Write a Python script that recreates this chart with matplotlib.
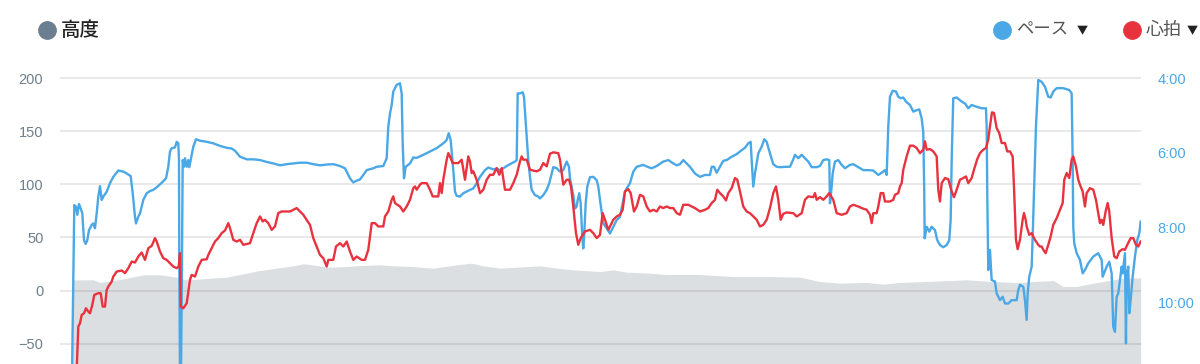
import matplotlib.pyplot as plt
from matplotlib.lines import Line2D
from matplotlib.ticker import FixedLocator, FuncFormatter

# distance along the run (arbitrary units) and the three series
dist_pace = [0, 2.3, 4.0, 5.3, 7.0, 8.7, 10.3, 12.0, 13.7, 15.3, 17.0, 19.7, 21.3, 23.0, 24.7, 26.3,
             28.0, 29.7, 31.3, 34.7, 38.0, 41.3, 46.3, 51.3, 54.7, 58.7, 60.7, 63.0, 64.0, 66.3, 68.0,
             71.3, 74.7, 78.0, 81.3, 84.7, 89.7, 94.0, 96.3, 98.0, 99.7, 103.0, 104.7, 106.3, 107.0,
             107.3, 108.0, 109.0, 110.0, 110.7, 112.0, 113.0, 114.7, 116.3, 117.3, 119.7, 121.3, 124.0,
             128.0, 134.7, 141.3, 148.0, 154.7, 159.7, 163.0, 168.0, 174.7, 181.3, 188.0, 194.7, 201.3,
             208.0, 214.7, 221.3, 228.0, 234.7, 241.3, 248.0, 254.7, 261.3, 268.0, 273.0, 278.0, 281.3,
             284.7, 288.0, 291.3, 294.7, 301.3, 304.7, 311.3, 314.7, 316.3, 318.0, 319.7, 321.3, 324.7,
             328.0, 329.7, 330.7, 332.0, 333.7, 338.0, 341.3, 344.7, 351.3, 358.0, 364.7, 371.3, 374.7,
             376.7, 378.7, 381.3, 383.0, 384.7, 388.0, 391.3, 398.0, 401.3, 404.7, 408.0, 413.0, 416.3,
             421.3, 424.7, 428.0, 431.3, 434.7, 438.0, 443.0, 444.7, 445.7, 448.0, 450.7, 452.0, 454.0,
             456.3, 458.0, 459.7, 463.0, 466.3, 468.0, 471.3, 474.7, 477.3, 479.7, 481.3, 484.7, 488.0,
             491.3, 494.7, 497.0, 498.0, 501.3, 503.0, 504.7, 505.7, 507.3, 508.7, 510.3, 511.3, 512.3,
             513.7, 515.3, 518.0, 521.3, 524.7, 526.3, 528.0, 531.3, 534.7, 538.0, 541.3, 544.7, 548.0,
             551.3, 553.0, 554.7, 558.0, 561.3, 564.7, 571.3, 576.3, 579.7, 584.7, 591.3, 596.3, 601.3,
             604.7, 608.0, 611.3, 614.7, 618.0, 623.0, 628.0, 633.0, 638.0, 639.7, 642.0, 644.7, 648.0,
             651.3, 654.7, 659.7, 664.7, 668.0, 673.0, 676.3, 678.7, 679.7, 681.3, 683.0, 686.3, 689.7,
             692.3, 694.7, 698.0, 701.3, 704.7, 708.0, 714.7, 718.0, 721.3, 723.0, 726.3, 729.7, 733.0,
             736.3, 739.7, 744.7, 748.0, 751.3, 754.7, 757.3, 758.0, 759.7, 760.7, 763.0, 766.3, 769.7,
             773.0, 778.0, 781.3, 786.3, 791.3, 796.3, 801.3, 806.3, 809.7, 813.0, 814.7, 816.3, 818.0,
             820.7, 824.0, 826.3, 828.7, 831.3, 834.0, 838.0, 841.3, 844.7, 847.3, 849.7, 851.3, 852.3,
             852.7, 854.7, 857.3, 859.7, 863.0, 865.3, 868.0, 871.3, 874.7, 877.3, 878.7, 879.7, 881.3,
             884.7, 889.7, 893.0, 896.3, 899.7, 904.7, 909.7, 914.0, 914.7, 915.3, 916.3, 918.0, 919.7,
             923.0, 924.7, 928.0, 930.7, 933.0, 936.3, 939.7, 944.7, 946.3, 948.0, 951.3, 953.0, 954.7,
             955.7, 957.3, 959.7, 960.7, 962.0, 964.0, 966.3, 969.7, 973.0, 976.3, 978.7, 981.3, 984.7,
             991.3, 997.3, 999.7, 1000.7, 1001.3, 1002.3, 1004.7, 1008.0, 1010.7, 1013.0, 1016.3, 1021.3,
             1026.3, 1029.7, 1030.7, 1034.7, 1037.3, 1039.7, 1041.3, 1043.0, 1044.7, 1046.3, 1048.0,
             1049.7, 1050.7, 1053.0, 1054.0, 1054.7, 1056.3, 1057.3, 1058.7, 1060.7, 1063.0, 1065.3,
             1067.3, 1068.7]
pace = [12.0, 7.40, 7.44, 7.66, 7.37, 7.49, 7.62, 8.34, 8.44, 8.34, 8.07, 7.93, 7.89, 8.02, 7.62, 7.17,
        6.89, 7.26, 7.17, 7.04, 6.81, 6.64, 6.47, 6.50, 6.55, 6.62, 7.08, 7.71, 7.89, 7.71, 7.62,
        7.26, 7.08, 7.02, 6.99, 6.92, 6.80, 6.68, 6.37, 5.96, 5.87, 5.85, 5.70, 5.74, 6.19,
        8.87, 12.0, 12.0, 8.87, 6.19, 6.37, 6.14, 6.37, 6.19, 6.38, 6.05, 5.83, 5.63,
        5.67, 5.70, 5.74, 5.81, 5.86, 5.88, 5.94, 6.10, 6.17, 6.17, 6.19, 6.24, 6.28,
        6.33, 6.30, 6.28, 6.26, 6.26, 6.30, 6.33, 6.31, 6.30, 6.35, 6.41, 6.68, 6.79,
        6.74, 6.71, 6.59, 6.46, 6.41, 6.37, 6.35, 6.14, 5.29, 4.94, 4.71, 4.35, 4.17,
        4.13, 4.40, 5.74, 6.68, 6.37, 6.28, 6.12, 6.13, 6.05, 5.96, 5.87, 5.74, 5.65,
        5.47, 5.65, 6.46, 7.04, 7.15, 7.17, 7.08, 6.99, 6.95, 6.81, 6.64, 6.46, 6.39,
        6.44, 6.42, 6.46, 6.41, 6.35, 6.30, 6.23, 6.19, 4.40, 4.40, 4.37, 4.49, 5.29,
        6.19, 6.64, 6.99, 7.13, 7.17, 7.22, 7.13, 6.99, 6.81, 6.55, 6.38, 6.41, 6.50,
        6.46, 6.23, 6.37, 6.68, 7.13, 7.49, 7.44, 7.26, 7.08, 7.35, 8.25, 8.56, 8.16,
        7.35, 6.90, 6.65, 6.64, 6.73, 6.90, 7.26, 7.89, 8.02, 8.16, 7.98, 7.80, 7.71,
        7.26, 7.04, 6.95, 6.81, 6.50, 6.37, 6.32, 6.38, 6.41, 6.35, 6.23, 6.19, 6.28,
        6.33, 6.30, 6.19, 6.28, 6.37, 6.55, 6.64, 6.59, 6.59, 6.37, 6.37, 6.53, 6.37,
        6.21, 6.19, 6.10, 6.03, 5.96, 5.86, 5.74, 5.70, 6.19, 6.90, 6.55, 6.01, 5.83,
        5.63, 5.70, 6.01, 6.30, 6.37, 6.38, 6.37, 6.37, 6.17, 6.05, 6.14, 6.05, 6.14,
        6.23, 6.38, 6.38, 6.35, 6.19, 6.17, 6.19, 7.35, 6.90, 6.55, 6.23, 6.19, 6.32,
        6.41, 6.32, 6.30, 6.38, 6.46, 6.46, 6.47, 6.59, 6.53, 6.46, 6.59, 5.29, 4.49,
        4.33, 4.35, 4.49, 4.53, 4.51, 4.62, 4.71, 4.89, 4.85, 4.83, 5.07, 5.43, 7.08,
        8.29, 7.98, 8.11, 7.98, 8.07, 8.34, 8.47, 8.53, 8.47, 8.34, 7.80, 6.19, 4.53,
        4.51, 4.62, 4.67, 4.80, 4.71, 4.76, 4.80, 4.80, 5.29, 7.08, 9.14, 8.60, 9.41,
        9.45, 9.77, 9.95, 9.86, 10.04, 10.04, 9.95, 9.95, 9.68, 9.54, 9.59, 9.95, 10.48,
        9.77, 9.32, 9.05, 8.25, 7.08, 5.29, 4.04, 4.09, 4.22, 4.49, 4.51, 4.35, 4.26,
        4.26, 4.31, 4.40, 6.19, 7.98, 8.43, 8.69, 8.87, 9.23, 9.14, 8.96, 8.78,
        8.69, 8.87, 9.32, 9.05, 8.92, 9.23, 10.66, 10.80, 9.86, 9.77, 9.41,
        9.05, 9.23, 8.69, 11.11, 9.32, 9.05, 10.30, 9.95, 9.32, 8.78, 8.34,
        8.16, 7.84]

dist_hr = [4.7, 6.3, 8.0, 9.7, 12.0, 14.0, 16.3, 18.0, 20.3, 22.3, 26.3, 28.7, 30.7, 33.0, 34.7, 36.3,
           39.7, 41.3, 44.7, 49.7, 53.0, 56.3, 59.7, 63.0, 66.3, 69.7, 73.0, 76.3, 79.7, 83.0, 84.7,
           88.0, 91.3, 94.7, 98.0, 101.3, 104.7, 106.7, 108.0, 108.7, 111.3, 114.7, 118.0, 119.7, 123.0,
           126.3, 129.7, 134.7, 136.3, 139.7, 143.0, 146.3, 149.7, 153.0, 156.3, 158.0, 161.3, 164.7,
           168.0, 171.3, 178.0, 181.3, 184.7, 188.0, 190.7, 193.0, 196.3, 199.7, 203.0, 206.3, 209.7,
           218.0, 224.7, 228.0, 231.3, 234.7, 238.0, 241.3, 244.7, 248.0, 251.3, 254.7, 256.3, 261.3,
           264.0, 268.0, 271.3, 274.7, 278.0, 281.3, 284.7, 289.7, 293.0, 296.3, 298.0, 299.7, 303.0,
           306.3, 311.3, 313.0, 316.3, 319.7, 321.3, 323.0, 328.0, 331.3, 334.7, 338.0, 341.3, 343.0,
           344.7, 348.0, 349.7, 354.7, 358.0, 360.7, 366.3, 368.0, 369.7, 371.3, 374.7, 376.3, 378.0,
           380.7, 386.3, 389.7, 393.0, 396.3, 398.0, 399.7, 401.3, 404.7, 408.0, 411.3, 414.7, 418.0,
           421.3, 424.7, 427.3, 429.7, 433.0, 438.0, 441.3, 444.7, 448.0, 449.7, 451.3, 454.7, 458.0,
           464.7, 468.0, 471.3, 474.7, 478.0, 481.3, 486.3, 488.0, 489.7, 491.3, 494.7, 497.0, 499.0,
           501.3, 504.0, 506.3, 508.7, 513.0, 518.0, 521.3, 524.7, 528.0, 530.7, 533.0, 536.3, 539.7,
           541.3, 544.7, 548.0, 550.7, 553.0, 556.3, 558.7, 562.0, 564.7, 568.0, 571.3, 574.7, 578.0,
           581.3, 584.7, 588.0, 591.3, 594.7, 598.0, 601.3, 604.7, 608.0, 611.3, 616.3, 619.7, 623.0,
           628.0, 633.0, 636.3, 639.7, 643.0, 645.3, 648.0, 651.3, 654.0, 656.3, 659.7, 663.0, 665.3,
           668.0, 671.3, 674.7, 678.0, 681.3, 684.7, 688.0, 691.3, 694.7, 698.0, 701.3, 704.0, 706.3,
           708.7, 711.3, 714.7, 721.3, 724.7, 729.7, 733.0, 736.3, 741.3, 743.0, 744.7, 748.0, 751.3,
           754.7, 757.3, 761.3, 764.7, 769.7, 774.7, 778.0, 781.3, 786.3, 789.7, 794.7, 798.0, 799.7,
           801.3, 804.7, 806.3, 808.7, 811.3, 813.0, 818.0, 821.3, 823.0, 826.3, 828.0, 829.7, 831.3,
           834.7, 838.0, 841.3, 844.7, 848.0, 851.3, 853.0, 854.7, 858.0, 861.3, 864.7, 866.3, 868.0,
           869.7, 873.0, 876.3, 879.7, 882.0, 884.7, 888.0, 891.3, 894.0, 896.3, 899.7, 902.0, 905.3,
           908.0, 911.3, 914.0, 916.3, 918.0, 920.0, 922.0, 924.7, 927.3, 929.7, 933.0, 935.3, 938.0,
           940.7, 942.0, 944.0, 945.7, 948.0, 950.7, 952.0, 953.7, 954.7, 957.3, 959.7, 961.3, 963.0,
           966.3, 968.0, 969.7, 971.3, 973.7, 976.3, 978.7, 981.3, 984.7, 988.0, 990.7, 992.3, 994.7,
           997.3, 999.7, 1001.3, 1004.0, 1006.3, 1008.0, 1010.7, 1013.0, 1014.7, 1018.0, 1021.3, 1024.0,
           1026.3, 1028.0, 1029.7, 1031.3, 1034.0, 1035.7, 1037.3, 1039.7, 1042.3, 1044.7, 1047.3,
           1050.7, 1053.0, 1055.3, 1058.7, 1061.3, 1064.0, 1066.3, 1068.7]
hr = [-75, -34.0, -30.8, -23.0, -21.4, -16.7, -19.8, -21.4, -13.5, -4.1, -2.5, -2.5, -15.1, -15.1, 0.6, 3.8,
      8.5, 13.2, 17.9, 18.9, 16.4, 21.1, 27.3, 26.4, 32.1, 35.8, 28.9, 39.9, 42.1, 49.4, 46.2,
      36.8, 30.5, 28.9, 25.8, 22.6, 21.1, 22.6, 35.2, -15.1, -16.7, -12.0, 10.1, 14.8, 13.2,
      22.6, 28.9, 29.5, 33.6, 39.9, 46.2, 49.4, 54.1, 56.6, 63.5, 58.8, 47.8, 46.2,
      47.8, 43.1, 44.6, 54.1, 63.5, 69.8, 65.1, 66.6, 63.5, 57.2, 60.4, 73.0, 74.5,
      74.5, 77.7, 74.5, 71.4, 66.6, 61.9, 49.4, 41.5, 33.6, 30.5, 22.6, 28.9, 28.9,
      41.5, 44.6, 41.5, 46.2, 36.8, 28.9, 32.1, 28.9, 28.9, 38.4, 50.9, 63.5, 63.5,
      60.4, 60.4, 69.8, 74.5, 85.5, 88.7, 82.4, 79.2, 74.5, 79.2, 85.5, 96.5, 98.1,
      95.0, 99.7, 101.2, 101.2, 95.0, 88.7, 88.7, 101.2, 91.8, 104.4, 123.3, 129.5, 126.4,
      120.1, 120.1, 123.3, 104.4, 126.4, 121.7, 110.7, 112.3, 104.4, 91.8, 95.0, 104.4, 109.1,
      109.1, 115.4, 109.1, 115.4, 95.0, 95.0, 101.2, 109.1, 121.7, 126.4, 123.3, 123.3, 113.8,
      112.3, 113.8, 120.1, 117.0, 128.9, 130.2, 129.5, 123.3, 110.7, 99.7, 104.4, 104.4, 98.1,
      79.2, 54.1, 43.1, 49.4, 55.7, 57.2, 54.1, 49.4, 52.5, 73.0, 66.7, 57.2, 63.5,
      66.7, 69.8, 71.4, 76.1, 93.4, 95.6, 91.8, 74.5, 79.2, 90.2, 88.7, 79.2, 74.5,
      76.1, 74.5, 79.2, 77.7, 79.2, 77.7, 77.7, 73.0, 71.4, 80.8, 80.8, 79.2, 77.7,
      74.5, 76.1, 77.7, 82.4, 85.5, 95.0, 91.8, 88.7, 84.9, 91.8, 96.5, 106.0, 104.4,
      93.4, 79.2, 74.5, 72.9, 69.8, 66.7, 60.4, 61.9, 66.7, 77.7, 91.8, 98.1, 85.5,
      66.7, 72.3, 73.6, 72.9, 69.8, 72.9, 85.5, 88.7, 88.0, 91.8, 85.5, 88.0, 85.5,
      88.7, 91.8, 85.5, 72.9, 71.4, 72.9, 79.2, 80.8, 79.2, 77.7, 76.1, 71.4, 63.5,
      72.9, 72.9, 79.2, 91.8, 91.8, 83.9, 83.9, 85.5, 90.2, 91.8, 98.1, 101.2, 113.8,
      126.4, 136.5, 136.5, 134.3, 129.5, 132.7, 140.6, 132.7, 133.3, 131.1, 126.4, 95.0, 83.9,
      101.2, 106.0, 105.0, 93.4, 88.0, 95.0, 104.4, 106.0, 107.5, 101.2, 106.0, 113.8, 123.9,
      129.5, 132.7, 134.3, 142.1, 154.7, 167.9, 167.3, 153.1, 148.4, 139.0, 139.0, 131.1, 131.1,
      126.4, 98.1, 47.8, 39.0, 47.8, 66.7, 73.0, 66.7, 60.4, 52.5, 54.1, 50.9, 47.8,
      43.1, 41.5, 41.5, 38.4, 35.2, 43.1, 50.9, 61.9, 68.2, 76.1, 82.4, 104.4, 110.7,
      106.0, 123.3, 126.4, 117.0, 104.4, 99.7, 93.4, 79.2, 91.8, 96.5, 95.0, 85.5,
      72.9, 63.5, 66.7, 61.9, 76.1, 82.4, 74.5, 49.4, 32.1, 30.5, 36.8,
      39.0, 38.4, 43.1, 49.4, 49.4, 43.1, 41.5, 46.2]

dist_elev = [0.3, 21.3, 28.0, 41.3, 54.7, 71.3, 88.0, 104.7, 114.7, 138.0, 154.7, 174.7, 188.0, 204.7,
             221.3, 231.3, 241.3, 254.7, 274.7, 288.0, 308.0, 321.3, 341.3, 361.3, 384.7, 399.7, 411.3,
             428.0, 444.7, 468.0, 484.7, 501.3, 528.0, 541.3, 554.7, 578.0, 594.7, 628.0, 661.3, 694.7,
             728.0, 748.0, 768.0, 794.7, 811.3, 828.0, 861.3, 894.7, 921.3, 944.7, 961.3, 981.3, 991.3,
             1004.7, 1021.3, 1050.7, 1068.7]
elev = [10.1, 10.1, 7.6, 9.4, 11.6, 14.8, 14.8, 12.6, 10.1, 11.6, 12.6, 16.4, 18.9, 21.1,
        23.3, 25.2, 24.2, 22.0, 22.6, 23.6, 24.2, 23.3, 22.6, 21.1, 24.2, 25.8, 23.3,
        21.1, 22.0, 23.3, 21.1, 19.5, 17.9, 19.5, 17.3, 16.4, 15.1, 15.1, 13.2, 13.2,
        12.6, 8.5, 7.0, 7.6, 6.0, 7.6, 8.8, 10.1, 8.5, 7.6, 8.5, 9.4, 3.8,
        3.8, 6.9, 11.6, 12.0]

left_ticks = [-50, 0, 50, 100, 150, 200]
pace_ticks = [4, 6, 8, 10]

BLUE = "#4aa8e6"
RED = "#e8333f"
SLATE = "#6b7f90"
FAMILY = ["Noto Sans CJK JP", "DejaVu Sans"]
plt.rcParams["font.family"] = FAMILY

fig = plt.figure(figsize=(12, 3.64), dpi=100)
ax = fig.add_axes([0.05, 0.0, 0.9008, 0.8077])
ax_pace = ax.twinx()
ax_hr = ax.twinx()

ax.fill_between(dist_elev, elev, -80, color="#dcdfe2", lw=0, zorder=1)
ax.set_xlim(-12, 1069)
ax.set_ylim(-69.2, 207.8)
ax.yaxis.set_major_locator(FixedLocator(left_ticks))
ax.grid(axis="y", color="black", alpha=0.1, lw=1.2, zorder=2)
ax.set_axisbelow(False)
ax.tick_params(axis="y", length=0, pad=12, labelsize=10.5, labelcolor="#6f7f8c")
ax.tick_params(axis="x", bottom=False, labelbottom=False)
for t in ax.get_yticklabels():
    t.set_family("Liberation Sans")

ax_pace.plot(dist_pace, pace, color=BLUE, lw=1.7)
ax_pace.set_ylim(11.664, 3.772)
ax_pace.yaxis.set_major_locator(FixedLocator(pace_ticks))
ax_pace.yaxis.set_major_formatter(FuncFormatter(lambda v, p: f"{int(v)}:{int(round((v % 1) * 60)):02d}"))
ax_pace.tick_params(axis="y", length=0, pad=12, labelsize=10.5, labelcolor=BLUE)
for t in ax_pace.get_yticklabels():
    t.set_family("Liberation Sans")

ax_hr.plot(dist_hr, hr, color=RED, lw=1.7)
ax_hr.set_ylim(-69.2, 207.8)
ax_hr.set_yticks([])

for a in (ax, ax_pace, ax_hr):
    for s in a.spines.values():
        s.set_visible(False)


# legends drawn in figure pixels
def dot(x, y, color):
    fig.add_artist(Line2D([x / 1200], [1 - y / 364], marker="o", markersize=12.5, color=color,
                          lw=0, transform=fig.transFigure))


dot(47, 30, SLATE)
fig.text(61 / 1200, 1 - 30 / 364, "高度", fontsize=14, fontweight="medium",
         color="#222222", va="center", ha="left")
dot(1002, 30, BLUE)
fig.text(1016 / 1200, 1 - 30 / 364, "ペース", fontsize=12.5, color="#555555", va="center", ha="left")
fig.text(1077 / 1200, 1 - 31 / 364, "▼", fontsize=8, color="#222222", va="center", ha="left")
dot(1132, 30, RED)
fig.text(1146 / 1200, 1 - 30 / 364, "心拍", fontsize=13, color="#555555", va="center", ha="left")
fig.text(1187 / 1200, 1 - 31 / 364, "▼", fontsize=8, color="#222222", va="center", ha="left")

fig.savefig("out.png", dpi=100)
